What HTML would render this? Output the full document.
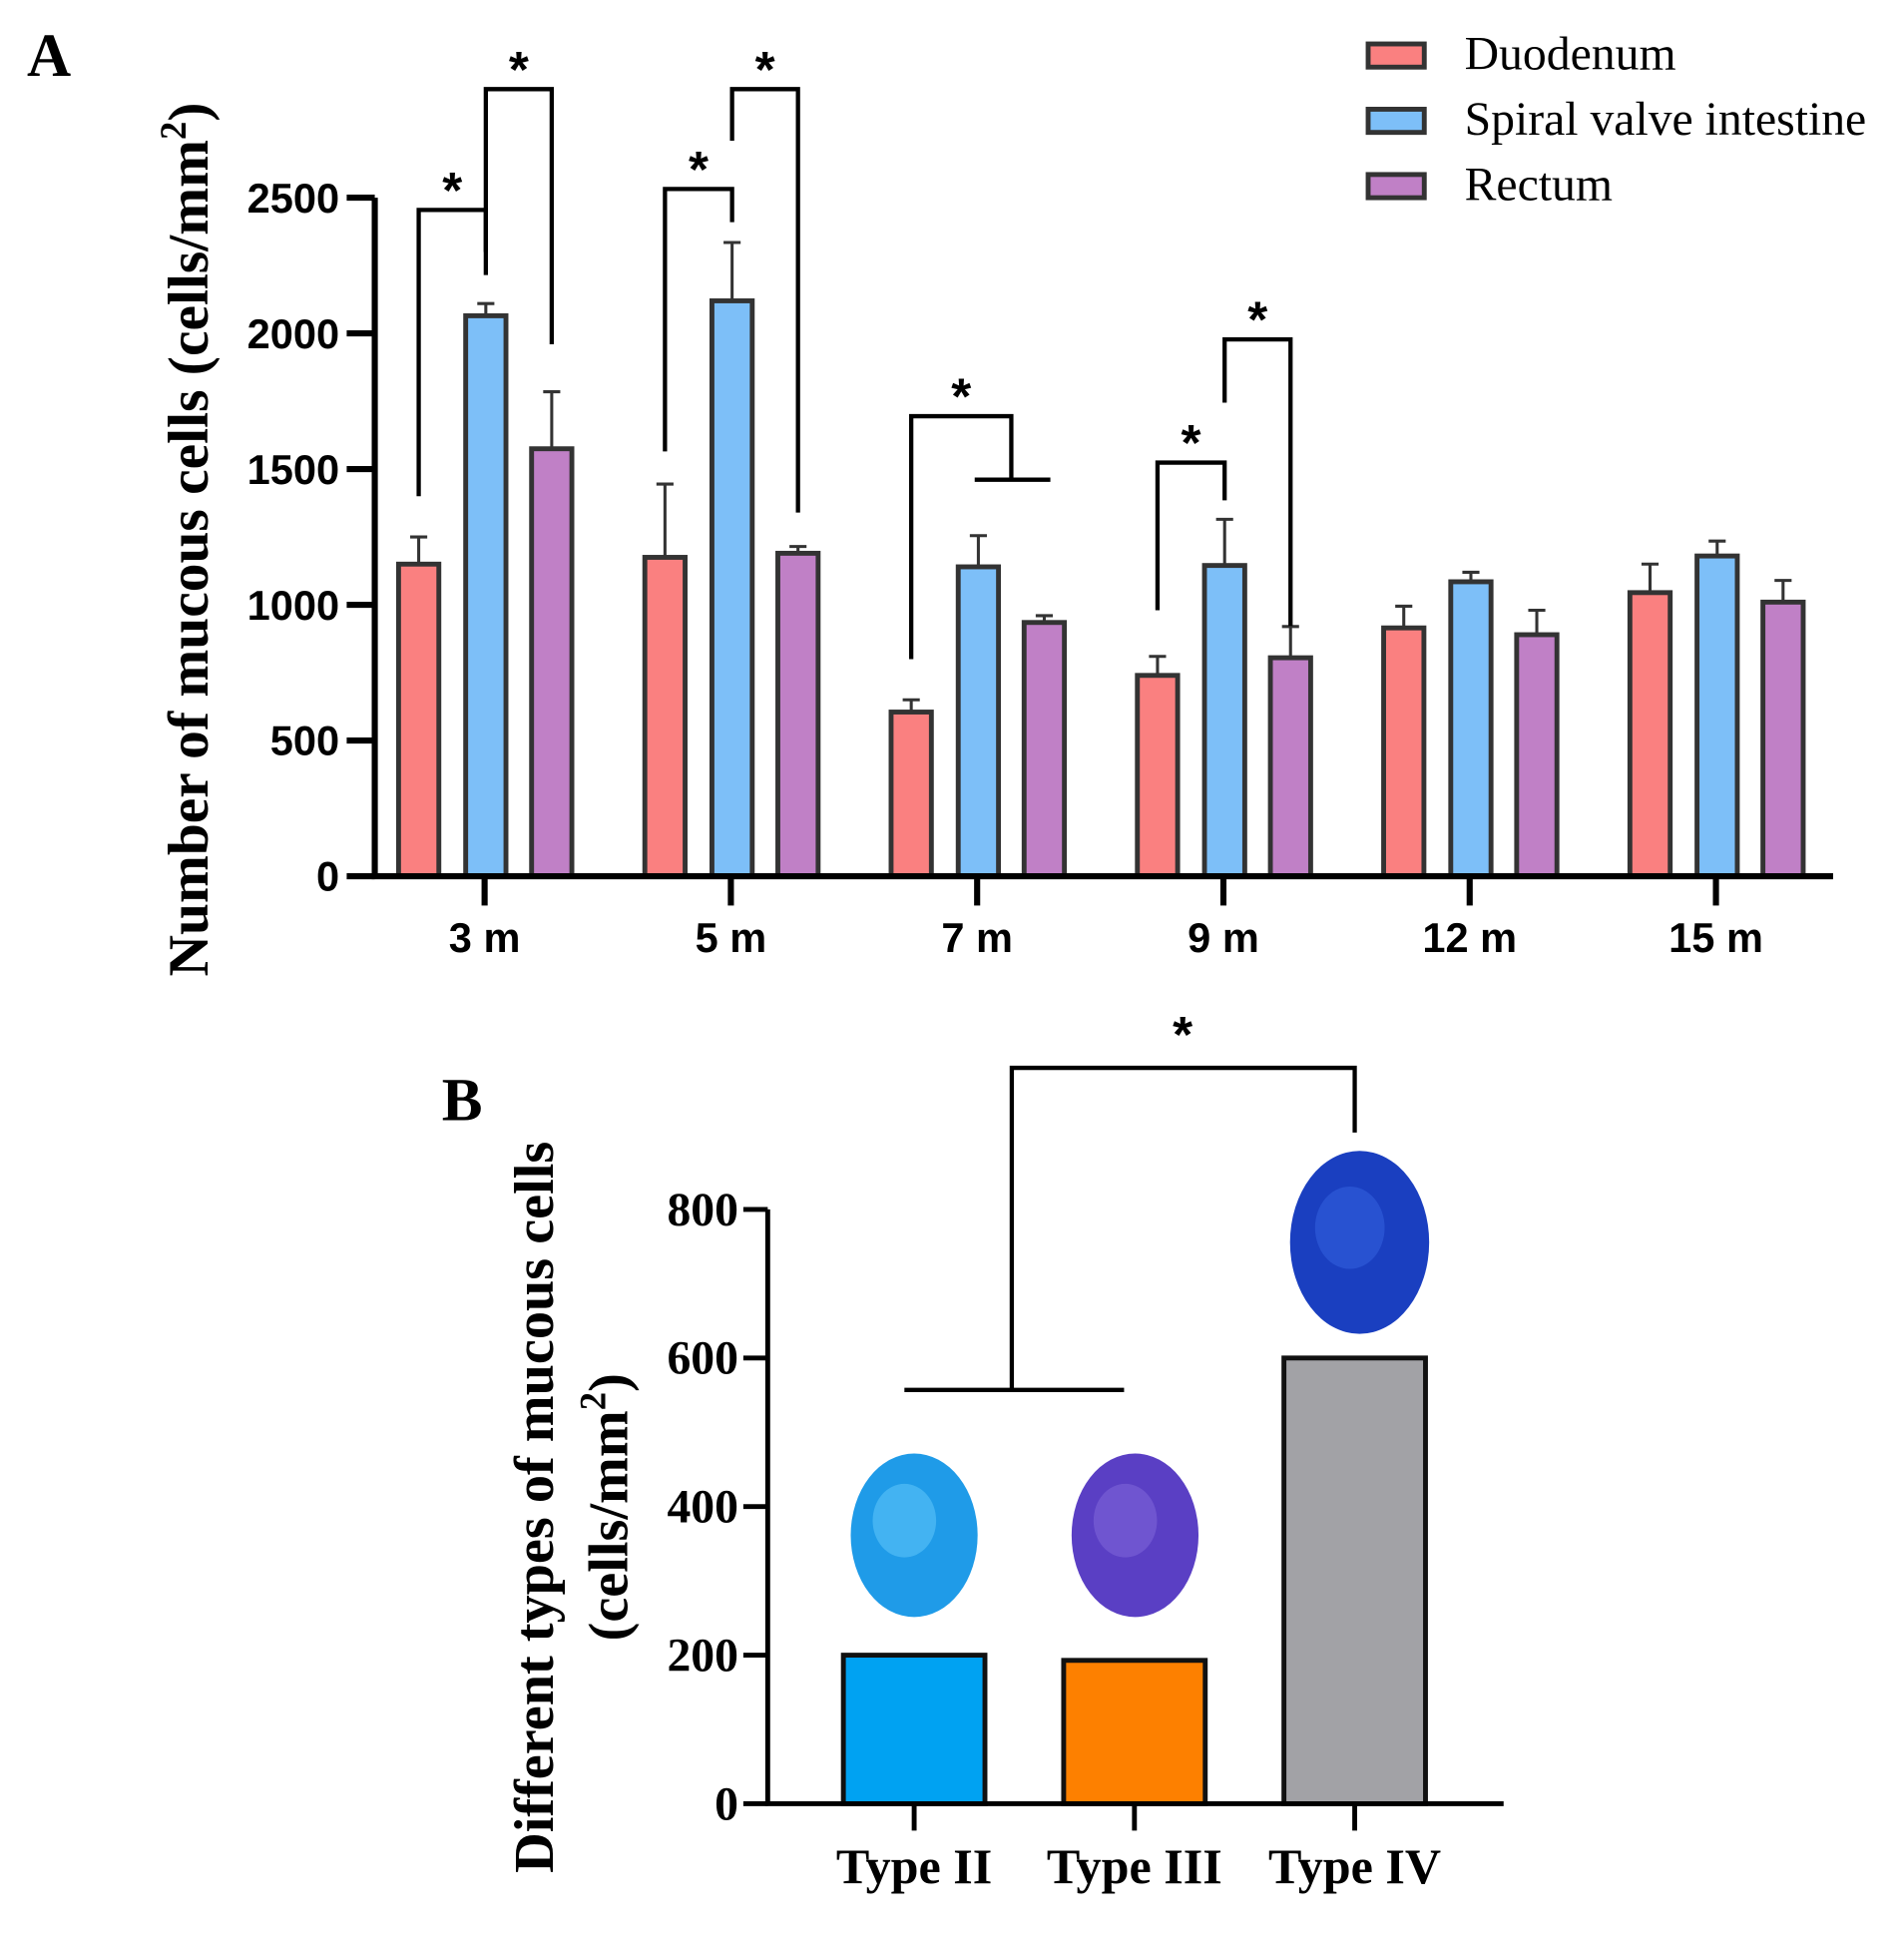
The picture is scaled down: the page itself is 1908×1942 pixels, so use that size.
<!DOCTYPE html>
<html><head><meta charset="utf-8">
<style>
html,body{margin:0;padding:0;background:#fff;}
svg{display:block;}
.tk{font-family:"Liberation Sans",sans-serif;font-weight:bold;font-size:34px;fill:#000;}
.tb{font-family:"Liberation Serif",serif;font-weight:bold;font-size:30px;fill:#000;}
.ttl{font-family:"Liberation Serif",serif;font-weight:bold;font-size:47px;fill:#000;}
.lg{font-family:"Liberation Serif",serif;font-size:39px;fill:#000;}
.star{font-family:"Liberation Sans",sans-serif;font-weight:bold;font-size:42px;fill:#000;}
</style></head>
<body>
<svg id="fig" width="1908" height="1942" viewBox="0 0 1560 1588" xmlns="http://www.w3.org/2000/svg">
<text x="22" y="62" class="ttl" style="font-size:50px">A</text>
<text x="362" y="918" class="ttl" style="font-size:50px">B</text>
<g id="chartA"></g>
<g id="chartB"></g>
</svg>
<script>
// ---- Chart A data ----
const categoriesA = ["3 m","5 m","7 m","9 m","12 m","15 m"];
const seriesNames = ["Duodenum","Spiral valve intestine","Rectum"];
const duodenum = [1150,1175,605,740,915,1045];
const spiral   = [2065,2120,1140,1145,1085,1180];
const rectum   = [1575,1190,935,805,890,1010];
const duodenumErr = [100,270,45,70,80,105];
const spiralErr   = [45,215,115,170,35,55];
const rectumErr   = [210,25,25,115,90,80];
const ticksA = [0,500,1000,1500,2000,2500];
// ---- Chart B data ----
const categoriesB = ["Type II","Type III","Type IV"];
const valuesB = [200,193,600];
const ticksB = [0,200,400,600,800];

const NS="http://www.w3.org/2000/svg";
function mk(parent,tag,attrs){const e=document.createElementNS(NS,tag);for(const k in attrs)e.setAttribute(k,attrs[k]);parent.appendChild(e);return e;}

// Chart A
const gA=document.getElementById('chartA');
const yA=v=>718-v*(556/2500);
const xA=i=>397+i*201.8;
const offs=[-54,1,55];
const colors=["#fa8080","#7dbff8","#c080c6"];
const series=[duodenum,spiral,rectum];
const errs=[duodenumErr,spiralErr,rectumErr];
const bw=33;
categoriesA.forEach((c,i)=>{
  series.forEach((s,k)=>{
    const cx=xA(i)+offs[k];
    const top=yA(s[i]+errs[k][i]);
    const el=mk(gA,'line',{x1:cx,x2:cx,y1:yA(s[i]),y2:top,stroke:'#333','stroke-width':2.5});
    
    
    const cap=mk(gA,'line',{x1:cx-7,x2:cx+7,y1:top,y2:top,stroke:'#333','stroke-width':2.5});
    
    
    const r=mk(gA,'rect',{x:cx-bw/2,y:yA(s[i]),width:bw,height:yA(0)-yA(s[i]),fill:colors[k],stroke:'#333','stroke-width':4});
    
    
  });
  const t=mk(gA,'line',{x1:xA(i),x2:xA(i),y1:718,y2:742,stroke:'#000','stroke-width':5});
  
  
  const l=mk(gA,'text',{x:xA(i),y:780,'text-anchor':'middle',class:'tk'});
  l.textContent=c;
  
  
});
ticksA.forEach(v=>{
  const t=mk(gA,'line',{x1:284,x2:307,y1:yA(v),y2:yA(v),stroke:'#000','stroke-width':5});
  
  
  const l=mk(gA,'text',{x:278,y:yA(v)+12,'text-anchor':'end',class:'tk'});
  l.textContent=v;
  
  
});
let ax=mk(gA,'path',{d:`M307,${yA(2500)} V718 H1502`,fill:'none',stroke:'#000','stroke-width':5});


const sig=[[0,0,1,1400,2455,2300],[0,1,2,2215,2900,1960],[1,0,1,1565,2532,2410],[1,1,2,2710,2900,1340],[3,0,1,980,1524,1385],[3,1,2,1745,1978,922]];
sig.forEach(s=>{
  const x1=xA(s[0])+offs[s[1]],x2=xA(s[0])+offs[s[2]];
  const p=mk(gA,'path',{d:`M${x1},${yA(s[3])} V${yA(s[4])} H${x2} V${yA(s[5])}`,fill:'none',stroke:'#000','stroke-width':3.5});
  
  
  const st=mk(gA,'text',{x:(x1+x2)/2,y:yA(s[4])-2,'text-anchor':'middle',class:'star'});
  st.textContent='*';
  
  
});
{const x1=xA(2)+offs[0],xm=xA(2)+(offs[1]+offs[2])/2;
 const p=mk(gA,'path',{d:`M${x1},${yA(800)} V${yA(1695)} H${xm} V${yA(1461)} M${xm-30},${yA(1461)} H${xm+32}`,fill:'none',stroke:'#000','stroke-width':3.5});
 
 
 const st=mk(gA,'text',{x:(x1+xm)/2,y:yA(1695)-2,'text-anchor':'middle',class:'star'});
 st.textContent='*';
 
 }
let yt=mk(gA,'text',{transform:'translate(170,442) rotate(-90)','text-anchor':'middle',class:'ttl'});
yt.innerHTML='Number of mucous cells (cells/mm<tspan dy="-18" font-size="30">2</tspan><tspan dy="18">)</tspan>';


seriesNames.forEach((n,k)=>{
  const y=45+k*53.5;
  const r=mk(gA,'rect',{x:1121,y:y-9,width:46,height:19,fill:colors[k],stroke:'#333','stroke-width':4});
  
  
  const t=mk(gA,'text',{x:1200,y:y+12,class:'lg'});
  t.textContent=n;
  
  
});

// Chart B
const gB=document.getElementById('chartB');
const yB=v=>1478-v*(487/800);
const xB=i=>749+i*180.5;
const colB=["#00a2f2","#fd8000","#a2a2a6"];
categoriesB.forEach((c,i)=>{
  const r=mk(gB,'rect',{x:xB(i)-58,y:yB(valuesB[i]),width:116,height:yB(0)-yB(valuesB[i]),fill:colB[i],stroke:'#111','stroke-width':4});
  
  
  const t=mk(gB,'line',{x1:xB(i),x2:xB(i),y1:1478,y2:1500,stroke:'#000','stroke-width':4});
  
  
  const l=mk(gB,'text',{x:xB(i),y:1543,'text-anchor':'middle',class:'tb',style:'font-size:41px'});
  l.textContent=c;
  
  
});
ticksB.forEach(v=>{
  const t=mk(gB,'line',{x1:609,x2:629,y1:yB(v),y2:yB(v),stroke:'#000','stroke-width':4});
  
  
  const l=mk(gB,'text',{x:605,y:yB(v)+13,'text-anchor':'end',class:'tb',style:'font-size:39px'});
  l.textContent=v;
  
  
});
ax=mk(gB,'path',{d:`M629,${yB(800)} V1478 H1232`,fill:'none',stroke:'#000','stroke-width':4});


const blobs=[[749,1258,52,67,'#1f9be8','#6fd0ff'],[930,1258,52,67,'#5a3fc4','#8a70e0'],[1114,1018,57,75,'#1a3fc0','#3a6ae6']];
blobs.forEach(b=>{
  const e=mk(gB,'ellipse',{cx:b[0],cy:b[1],rx:b[2],ry:b[3],fill:b[4]});
  
  
  const h=mk(gB,'ellipse',{cx:b[0]-8,cy:b[1]-12,rx:b[2]*0.5,ry:b[3]*0.45,fill:b[5],opacity:0.45});
  
  
});
const brY=yB(557);
let p=mk(gB,'path',{d:`M741,${brY} H921 M829,${brY} V875 H${xB(2)} V928`,fill:'none',stroke:'#000','stroke-width':3.5});


let st=mk(gB,'text',{x:969,y:862,'text-anchor':'middle',class:'star'});
st.textContent='*';


let t1=mk(gB,'text',{transform:'translate(453,1235) rotate(-90)','text-anchor':'middle',class:'ttl',style:'font-size:46px'});
t1.textContent='Different types of mucous cells';


let t2=mk(gB,'text',{transform:'translate(514,1235) rotate(-90)','text-anchor':'middle',class:'ttl',style:'font-size:46px'});
t2.innerHTML='(cells/mm<tspan dy="-18" font-size="30">2</tspan><tspan dy="18">)</tspan>';


</script>
</body></html>
